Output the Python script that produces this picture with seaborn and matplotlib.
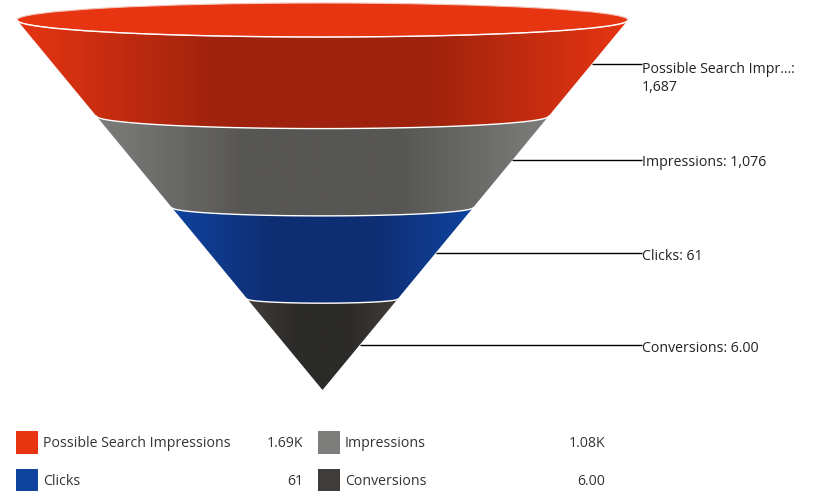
import numpy as np
import matplotlib
matplotlib.use("Agg")
import matplotlib.pyplot as plt
from matplotlib.colors import LinearSegmentedColormap
from matplotlib.patches import Polygon, Ellipse
import seaborn as sns

# ---- data ----
categories = ["Possible Search Impressions", "Impressions", "Clicks", "Conversions"]
values = [1687, 1076, 61, 6.00]
callout_names = ["Possible Search Impr...:", "Impressions:", "Clicks:", "Conversions:"]
callout_values = ["1,687", "1,076", "61", "6.00"]
legend_values = ["1.69K", "1.08K", "61", "6.00"]
bright_colors = ["#E73512", "#7D7D7B", "#0F439E", "#403C39"]
dark_colors = ["#9E220D", "#575654", "#0E2E73", "#2C2B29"]

# ---- layout (pixels) ----
W, H = 814, 491
APEX_X, APEX_Y = 322.5, 390.0
TOP_Y, TOP_HALF = 20.0, 305.5
RIM_RATIO = 17.0 / 305.5
BAND_EDGES = [20.0, 116.0, 207.5, 299.0, 390.0]
LEADER_Y = [64.0, 160.0, 253.0, 345.0]
LEADER_END = 642.0
FONT = "Open Sans"
FS = 10.2

sns.set_theme(style="white")
plt.rcParams["font.family"] = [FONT, "DejaVu Sans"]

fig = plt.figure(figsize=(W / 100, H / 100), dpi=100)
ax = fig.add_axes([0, 0, 1, 1])
ax.set_xlim(0, W)
ax.set_ylim(H, 0)
ax.axis("off")


def half_width(y):
    return TOP_HALF * (APEX_Y - y) / (APEX_Y - TOP_Y)


def lower_arc(y, n=120):
    w = half_width(y)
    t = np.linspace(np.pi, 0, n)
    return APEX_X + w * np.cos(t), y + w * RIM_RATIO * np.sin(t)


for i, cat in enumerate(categories):
    y0, y1 = BAND_EDGES[i], BAND_EDGES[i + 1]
    w0 = half_width(y0)
    xa, ya = lower_arc(y0)
    xb, yb = lower_arc(y1)
    xs = np.r_[xa, xb[::-1]]
    ys = np.r_[ya, yb[::-1]]
    poly = Polygon(np.c_[xs, ys], closed=True, transform=ax.transData, fc="none", ec="none")
    ax.add_patch(poly)
    cmap = LinearSegmentedColormap.from_list(
        f"band{i}",
        [(0, bright_colors[i]), (0.33, dark_colors[i]), (0.67, dark_colors[i]), (1, bright_colors[i])],
    )
    im = ax.imshow(
        np.linspace(0, 1, 512)[None, :],
        cmap=cmap,
        extent=(APEX_X - w0, APEX_X + w0, y1 + 30, y0 - 2),
        aspect="auto",
        zorder=2 + 0.1 * i,
    )
    im.set_clip_path(poly)

# top opening of the cone
ax.add_patch(Ellipse((APEX_X, TOP_Y), 2 * TOP_HALF, 2 * TOP_HALF * RIM_RATIO,
                     fc=bright_colors[0], ec="#F3C3B8", lw=0.8, zorder=3))
# white rims between bands
for y in BAND_EDGES[:-1]:
    xa, ya = lower_arc(y)
    ax.plot(xa, ya, color="white", lw=1.0, zorder=4)

# leader lines and callouts
for i, y in enumerate(LEADER_Y):
    edge = APEX_X + half_width(y)
    ax.plot([edge, LEADER_END], [y, y], color="black", lw=1.0, zorder=1, solid_capstyle="butt")
    if i == 0:
        ax.text(LEADER_END, y + 5, callout_names[i], fontsize=FS, color="#222222", va="center", ha="left")
        ax.text(LEADER_END, y + 23, callout_values[i], fontsize=FS, color="#222222", va="center", ha="left")
    else:
        ax.text(LEADER_END, y + 3, f"{callout_names[i]} {callout_values[i]}",
                fontsize=FS, color="#222222", va="center", ha="left")

# legend
swatch_x = [27, 329, 27, 329]
label_x = [43, 345, 43, 345]
value_x = [303, 605, 303, 605]
row_y = [442.5, 480.5]
rows = [row_y[0], row_y[0], row_y[1], row_y[1]]
sns.scatterplot(x=swatch_x, y=rows, hue=categories, palette=bright_colors, marker="s",
                s=270, linewidth=0, legend=False, ax=ax, zorder=3)
for i, cat in enumerate(categories):
    ax.text(label_x[i], rows[i] + 1, cat, fontsize=FS, color="#333333", va="center", ha="left")
    ax.text(value_x[i], rows[i] + 1, legend_values[i], fontsize=FS, color="#333333", va="center", ha="right")

ax.set_xlim(0, W)
ax.set_ylim(H, 0)
fig.savefig("out.png", dpi=100, facecolor="white")
